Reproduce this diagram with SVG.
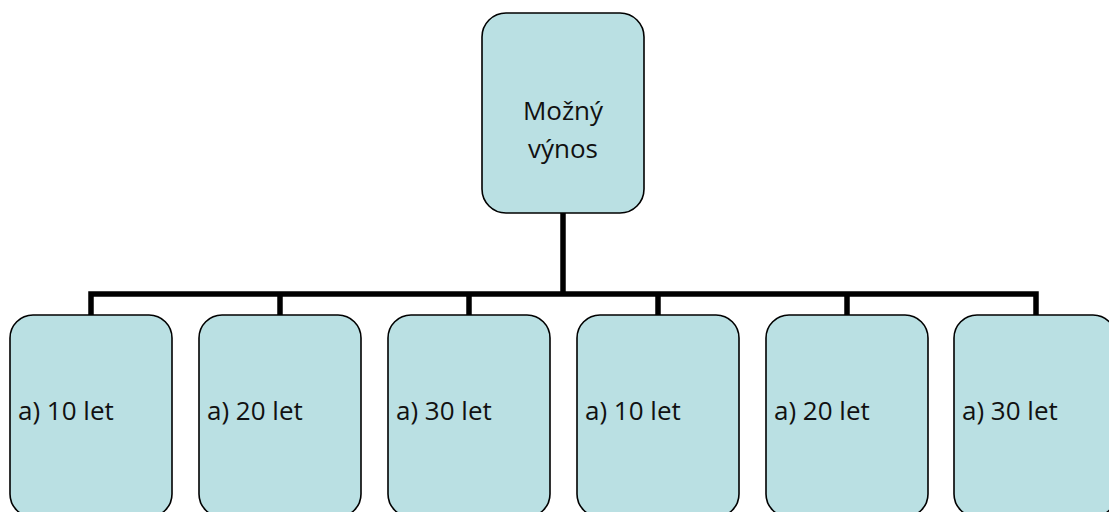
<svg xmlns="http://www.w3.org/2000/svg" width="1109" height="512" viewBox="0 0 1109 512">
  <style>
    .box { fill: #BAE0E3; stroke: #000000; stroke-width: 1.6; }
    .lbl { font-family: "Open Sans", "Liberation Sans", sans-serif; font-size: 26px; fill: #111111; }
    .link { fill: none; stroke: #000000; stroke-width: 5.5; stroke-linecap: butt; stroke-linejoin: miter; }
  </style>
  <rect width="1109" height="512" fill="#FFFFFF"/>

  <!-- connectors: trunk, bus and drops -->
  <g id="connectors">
    <path class="link" d="M563 213 V294"/>
    <path class="link" d="M91 315 V294 H1036 V315"/>
    <path class="link" d="M280 294 V315"/>
    <path class="link" d="M469 294 V315"/>
    <path class="link" d="M658 294 V315"/>
    <path class="link" d="M847 294 V315"/>
  </g>

  <!-- root -->
  <g id="root">
    <rect class="box" x="482" y="13" width="162" height="200" rx="24" ry="24"/>
    <text class="lbl" x="563" y="120" text-anchor="middle">Možný</text>
    <text class="lbl" x="563" y="158" text-anchor="middle">výnos</text>
  </g>

  <!-- children -->
  <g id="child-1">
    <rect class="box" x="10" y="315" width="162" height="202" rx="23" ry="23"/>
    <text class="lbl" x="18" y="420">a) 10 let</text>
  </g>
  <g id="child-2">
    <rect class="box" x="199" y="315" width="162" height="202" rx="23" ry="23"/>
    <text class="lbl" x="207" y="420">a) 20 let</text>
  </g>
  <g id="child-3">
    <rect class="box" x="388" y="315" width="162" height="202" rx="23" ry="23"/>
    <text class="lbl" x="396" y="420">a) 30 let</text>
  </g>
  <g id="child-4">
    <rect class="box" x="577" y="315" width="162" height="202" rx="23" ry="23"/>
    <text class="lbl" x="585" y="420">a) 10 let</text>
  </g>
  <g id="child-5">
    <rect class="box" x="766" y="315" width="162" height="202" rx="23" ry="23"/>
    <text class="lbl" x="774" y="420">a) 20 let</text>
  </g>
  <g id="child-6">
    <rect class="box" x="954" y="315" width="162" height="202" rx="23" ry="23"/>
    <text class="lbl" x="962" y="420">a) 30 let</text>
  </g>
</svg>
